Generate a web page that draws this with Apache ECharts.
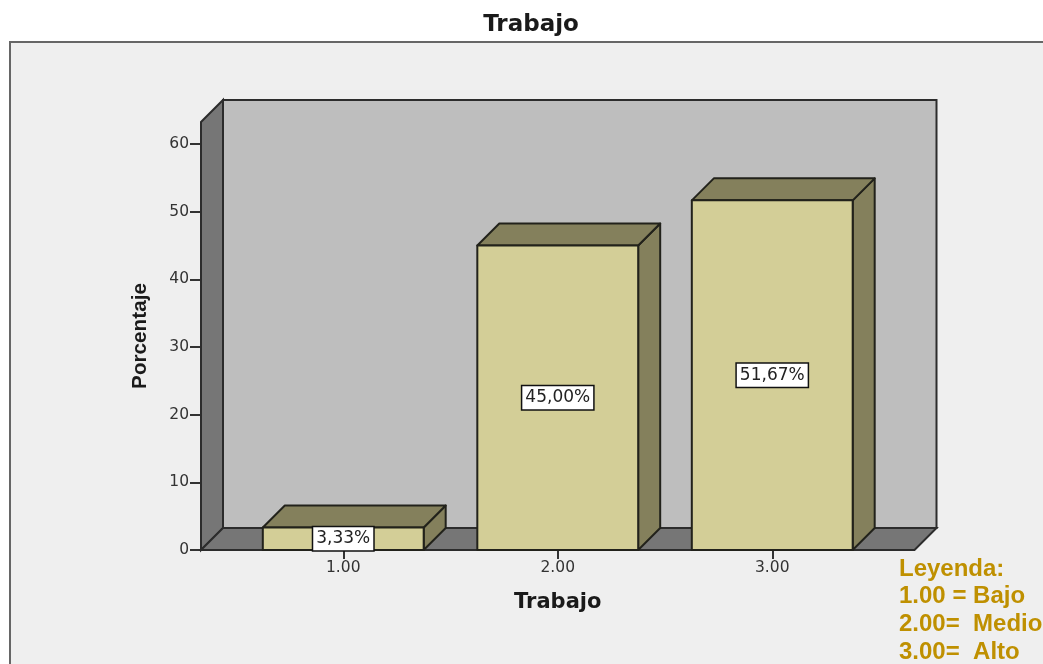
<!DOCTYPE html>
<html>
<head>
<meta charset="utf-8">
<style>html,body{margin:0;padding:0;background:#fff}#chart{width:1043px;height:664px}</style>
<script src="https://cdn.jsdelivr.net/npm/echarts@6/dist/echarts.min.js"></script>
</head>
<body>
<div id="chart"></div>
<script>
// Survey result: share of respondents per "Trabajo" level.
const categories = ['1.00', '2.00', '3.00'];
const percentages = [3.33, 45.00, 51.67];
const yTicks = [0, 10, 20, 30, 40, 50, 60];
const legendLines = ['Leyenda:', '1.00 = Bajo', '2.00=  Medio', '3.00=  Alto'];

const AXIS_TOP = 63.25;   // value at the top edge of the front plane
const DEPTH = 22;         // oblique offset of the pseudo-3D box
const SIDE_PAD = 35;      // gap between the outer bands and the chamber walls
const LINE = '#22221b';

const formatPct = v => v.toFixed(2).replace('.', ',') + '%';

// Back wall, left wall and floor of the 3D chamber.
function renderChamber(params, api) {
  const cs = params.coordSys;
  const x0 = cs.x - SIDE_PAD, x1 = cs.x + cs.width + SIDE_PAD;
  const yTop = api.coord([0, AXIS_TOP])[1], yBase = api.coord([0, 0])[1];
  const style = fill => ({ fill, stroke: '#2c2c2c', lineWidth: 2, lineJoin: 'miter' });
  const poly = (points, fill) => ({ type: 'polygon', shape: { points }, style: style(fill) });
  return {
    type: 'group',
    children: [
      poly([[x0 + DEPTH, yTop - DEPTH], [x1 + DEPTH, yTop - DEPTH], [x1 + DEPTH, yBase - DEPTH], [x0 + DEPTH, yBase - DEPTH]], '#bebebe'),
      poly([[x0, yTop], [x0 + DEPTH, yTop - DEPTH], [x0 + DEPTH, yBase - DEPTH], [x0, yBase]], '#767676'),
      poly([[x0, yBase], [x0 + DEPTH, yBase - DEPTH], [x1 + DEPTH, yBase - DEPTH], [x1, yBase]], '#767676')
    ]
  };
}

// One extruded bar with a boxed value label centred on its front face.
function renderBar(params, api) {
  const i = api.value(0), v = api.value(1);
  const [cx, yv] = api.coord([i, v]);
  const yBase = api.coord([i, 0])[1];
  const w = api.size([1, 0])[0] * 0.75;
  const l = cx - w / 2, r = cx + w / 2;
  const stroke = { stroke: LINE, lineWidth: 2, lineJoin: 'round' };
  return {
    type: 'group',
    children: [
      { type: 'polygon', shape: { points: [[r, yv], [r + DEPTH, yv - DEPTH], [r + DEPTH, yBase - DEPTH], [r, yBase]] }, style: { fill: '#84805c', ...stroke } },
      { type: 'polygon', shape: { points: [[l, yv], [l + DEPTH, yv - DEPTH], [r + DEPTH, yv - DEPTH], [r, yv]] }, style: { fill: '#84805c', ...stroke } },
      { type: 'rect', shape: { x: l, y: yv, width: w, height: yBase - yv }, style: { fill: '#d3ce97', ...stroke } },
      {
        type: 'text',
        x: cx, y: (yv + yBase) / 2,
        style: {
          text: formatPct(v),
          align: 'center', verticalAlign: 'middle',
          font: '17px "DejaVu Sans"',
          fill: '#222',
          backgroundColor: '#fff',
          borderColor: '#111', borderWidth: 1.5,
          padding: [3, 3, 3, 3]
        }
      }
    ]
  };
}

const chart = echarts.init(document.getElementById('chart'), null, { renderer: 'canvas' });
chart.setOption({
  animation: false,
  backgroundColor: '#fff',
  title: {
    text: 'Trabajo', left: 526, top: 9, textAlign: 'center',
    textStyle: { fontFamily: 'DejaVu Sans', fontWeight: 'bold', fontSize: 23, color: '#1a1a1a' }
  },
  grid: { left: 236, top: 122, width: 643.5, height: 428 },
  xAxis: {
    type: 'category',
    data: categories,
    name: 'Trabajo', nameLocation: 'middle', nameGap: 42,
    nameTextStyle: { fontFamily: 'DejaVu Sans', fontWeight: 'bold', fontSize: 21, color: '#1a1a1a' },
    axisLine: { show: false },
    axisTick: { show: true, alignWithLabel: true, length: 9, lineStyle: { color: '#333', width: 2 } },
    axisLabel: { margin: 10, fontFamily: 'DejaVu Sans', fontSize: 15.5, color: '#333' },
    splitLine: { show: false }
  },
  yAxis: {
    type: 'value',
    min: 0, max: AXIS_TOP,
    offset: SIDE_PAD,
    name: 'Porcentaje', nameLocation: 'middle', nameGap: 50, nameRotate: 90,
    nameTextStyle: { fontFamily: 'Liberation Sans', fontWeight: 'bold', fontSize: 20.7, color: '#1a1a1a' },
    axisLine: { show: false },
    axisTick: { show: true, length: 11, customValues: yTicks, lineStyle: { color: '#333', width: 2 } },
    axisLabel: { margin: 12, fontFamily: 'DejaVu Sans', fontSize: 15.5, color: '#333', customValues: yTicks },
    splitLine: { show: false }
  },
  graphic: [
    {
      type: 'rect', z: -10, silent: true,
      shape: { x: 10, y: 42, width: 1050, height: 640 },
      style: { fill: '#efefef', stroke: '#666', lineWidth: 2 }
    },
    ...legendLines.map((line, i) => ({
      type: 'text', z: 10, silent: true,
      x: 899, y: 569 + i * 27.7,
      style: {
        text: line, verticalAlign: 'middle', align: 'left',
        font: 'bold 24px "Liberation Sans"', fill: '#bf9000'
      }
    }))
  ],
  series: [
    { type: 'custom', z: 1, silent: true, clip: false, renderItem: renderChamber, data: [[0, 0]] },
    {
      type: 'custom', z: 2, silent: true, clip: false, renderItem: renderBar,
      encode: { x: 0, y: 1 },
      data: percentages.map((v, i) => [i, v])
    }
  ]
});
</script>
</body>
</html>
